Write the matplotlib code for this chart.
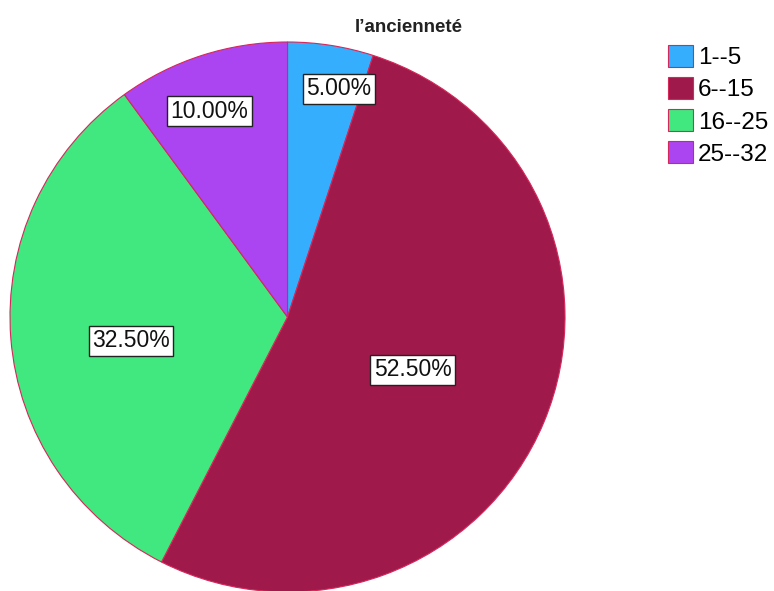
import numpy as np
import matplotlib.pyplot as plt

plt.rcParams['font.family'] = ['Liberation Sans', 'DejaVu Sans']

# Répartition selon l'ancienneté (%)
groupes = ['1--5', '6--15', '16--25', '25--32']
parts = [5.0, 52.5, 32.5, 10.0]
couleurs = ['#34aefd', '#a0194b', '#41e77f', '#ab45f2']
bord = '#d6275a'

# position des étiquettes (rayon relatif, décalage angulaire en degrés)
rayons = [0.85, 0.49, 0.57, 0.80]
decal = [-3.6, -0.6, 4.3, 2.6]

W, H = 774, 591
fig = plt.figure(figsize=(W / 100, H / 100), dpi=100)

# axe du camembert en pixels : x 10..565, y 42..592
x0, x1, y0, y1 = 10, 565, 42, 592
ax = fig.add_axes([x0 / W, (H - y1) / H, (x1 - x0) / W, (y1 - y0) / H])

wedges, _ = ax.pie(parts, colors=couleurs, startangle=90, counterclock=False,
                   wedgeprops=dict(edgecolor=bord, linewidth=0.8))
ax.set_aspect('auto')
ax.set_xlim(-1, 1)
ax.set_ylim(-1, 1)

for w, p, r, d in zip(wedges, parts, rayons, decal):
    ang = np.deg2rad((w.theta1 + w.theta2) / 2 + d)
    ax.text(r * np.cos(ang), r * np.sin(ang), f'{p:.2f}%',
            ha='center', va='center', fontsize=16.5, color='#111111',
            bbox=dict(boxstyle='square,pad=0.15', fc='white', ec='#222222', lw=1))

fig.text(409 / W, 1 - 27 / H, "l’ancienneté", ha='center', va='center',
         fontsize=13.5, fontweight='bold', color='#222222')

fig.legend(wedges, groupes, loc='upper left',
           bbox_to_anchor=(668 / W, 1 - 45 / H), frameon=False,
           fontsize=17.5, handlelength=1.02, handleheight=1.02,
           handletextpad=0.2, labelspacing=0.32, borderpad=0,
           borderaxespad=0)

fig.savefig('out.png', dpi=100)
